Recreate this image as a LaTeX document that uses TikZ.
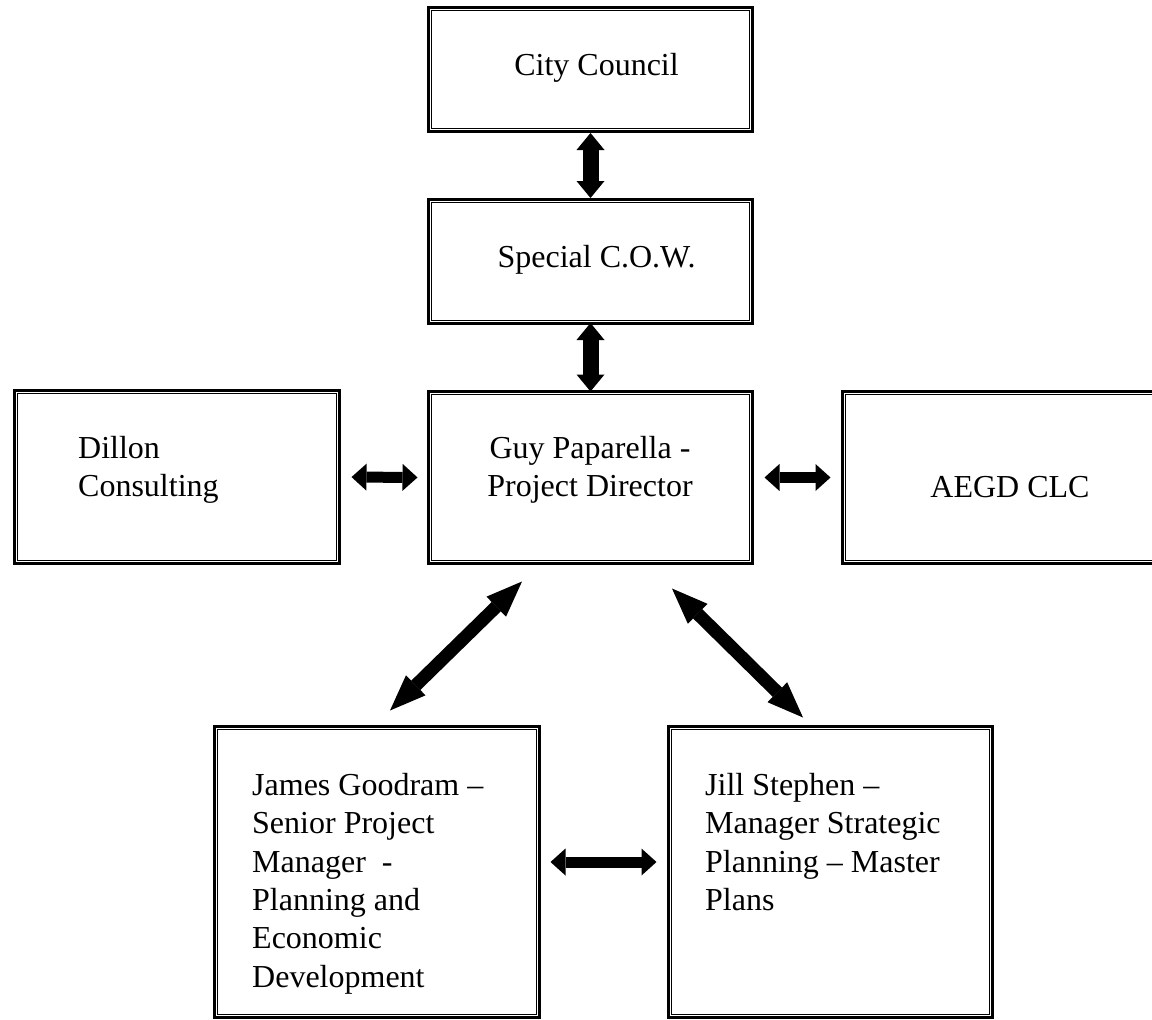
\documentclass[tikz,border=0pt]{standalone}
\usepackage{fontspec}
\setmainfont{Liberation Serif}
\usetikzlibrary{arrows.meta,calc}
\tikzset{
  orgbox/.style={draw=black, line width=3pt, inner sep=0pt, rectangle},
  innerline/.style={draw=black, line width=1.8pt},
  lbl/.style={inner sep=0pt, font=\fontsize{32pt}{38.3pt}\selectfont},
  vbarrow/.style={line width=16pt, {Triangle[length=17pt,width=28pt,line width=0pt]}-{Triangle[length=17pt,width=28pt,line width=0pt]}},
  hbarrow/.style={line width=11pt, {Triangle[length=15pt,width=27pt,line width=0pt]}-{Triangle[length=15pt,width=27pt,line width=0pt]}},
  dbarrow/.style={line width=13pt, {Triangle[length=36pt,width=28pt,line width=0pt]}-{Triangle[length=36pt,width=28pt,line width=0pt]}}
}
\newcommand{\innerrect}[1]{\draw[innerline] ([shift={(4.5pt,-4.5pt)}]#1.north west) rectangle ([shift={(-4.5pt,4.5pt)}]#1.south east);}
\begin{document}
\begin{tikzpicture}[x=1pt,y=-1pt]
\useasboundingbox (0,0) rectangle (1152,1020);
% boxes
\node[orgbox, minimum width=324pt, minimum height=124pt] (cc) at (590.5,69.5) {};
\node[orgbox, minimum width=324pt, minimum height=124pt] (cow) at (590.5,261.5) {};
\node[orgbox, minimum width=324pt, minimum height=172pt] (guy) at (590.5,477.5) {};
\node[orgbox, minimum width=325pt, minimum height=173pt] (dil) at (177,477) {};
\node[orgbox, minimum width=325pt, minimum height=172pt] (aegd) at (1005,477.5) {};
\node[orgbox, minimum width=325pt, minimum height=291pt] (jam) at (377,872) {};
\node[orgbox, minimum width=324pt, minimum height=291pt] (jill) at (830.5,872) {};
\innerrect{cc}
\innerrect{cow}
\innerrect{guy}
\innerrect{dil}
\innerrect{aegd}
\innerrect{jam}
\innerrect{jill}
% texts
\node[lbl, anchor=base] (cct) at (596.5,75) {City Council};
\node[lbl, anchor=base] (cowt) at (596.5,267) {Special C.O.W.};
\node[lbl, anchor=north, align=center] (guyt) at (590,436.2) {Guy Paparella -\\Project Director};
\node[lbl, anchor=north west, align=left] (dilt) at (78,436.2) {Dillon\\Consulting};
\node[lbl, anchor=base] (aegdt) at (1010,497) {AEGD CLC};
\node[lbl, anchor=north west, align=left] (jamt) at (252,773.2) {James Goodram –\\Senior Project\\Manager~~-\\Planning and\\Economic\\Development};
\node[lbl, anchor=north west, align=left] (jillt) at (705,773.2) {Jill Stephen –\\Manager Strategic\\Planning – Master\\Plans};
% connectors
\draw[vbarrow] (cc.south) -- (cow.north);
\draw[vbarrow] ([yshift=2pt]cow.south) -- ([yshift=-1.5pt]guy.north);
\draw[hbarrow, shorten <=10.5pt, shorten >=9.5pt] (dil.east) -- (guy.west);
\draw[hbarrow, shorten <=10.5pt, shorten >=10.5pt] (guy.east) -- (aegd.west);
\draw[hbarrow, shorten <=9.5pt, shorten >=10.5pt] ([yshift=10pt]jam.east) -- ([yshift=10pt]jill.west);
\draw[dbarrow] ([shift={(-68.5pt,-16.5pt)}]guy.south) -- ([shift={(13pt,14.5pt)}]jam.north);
\draw[dbarrow] ([shift={(81.5pt,-23.5pt)}]guy.south) -- ([shift={(-27.5pt,7.5pt)}]jill.north);
\end{tikzpicture}
\end{document}
